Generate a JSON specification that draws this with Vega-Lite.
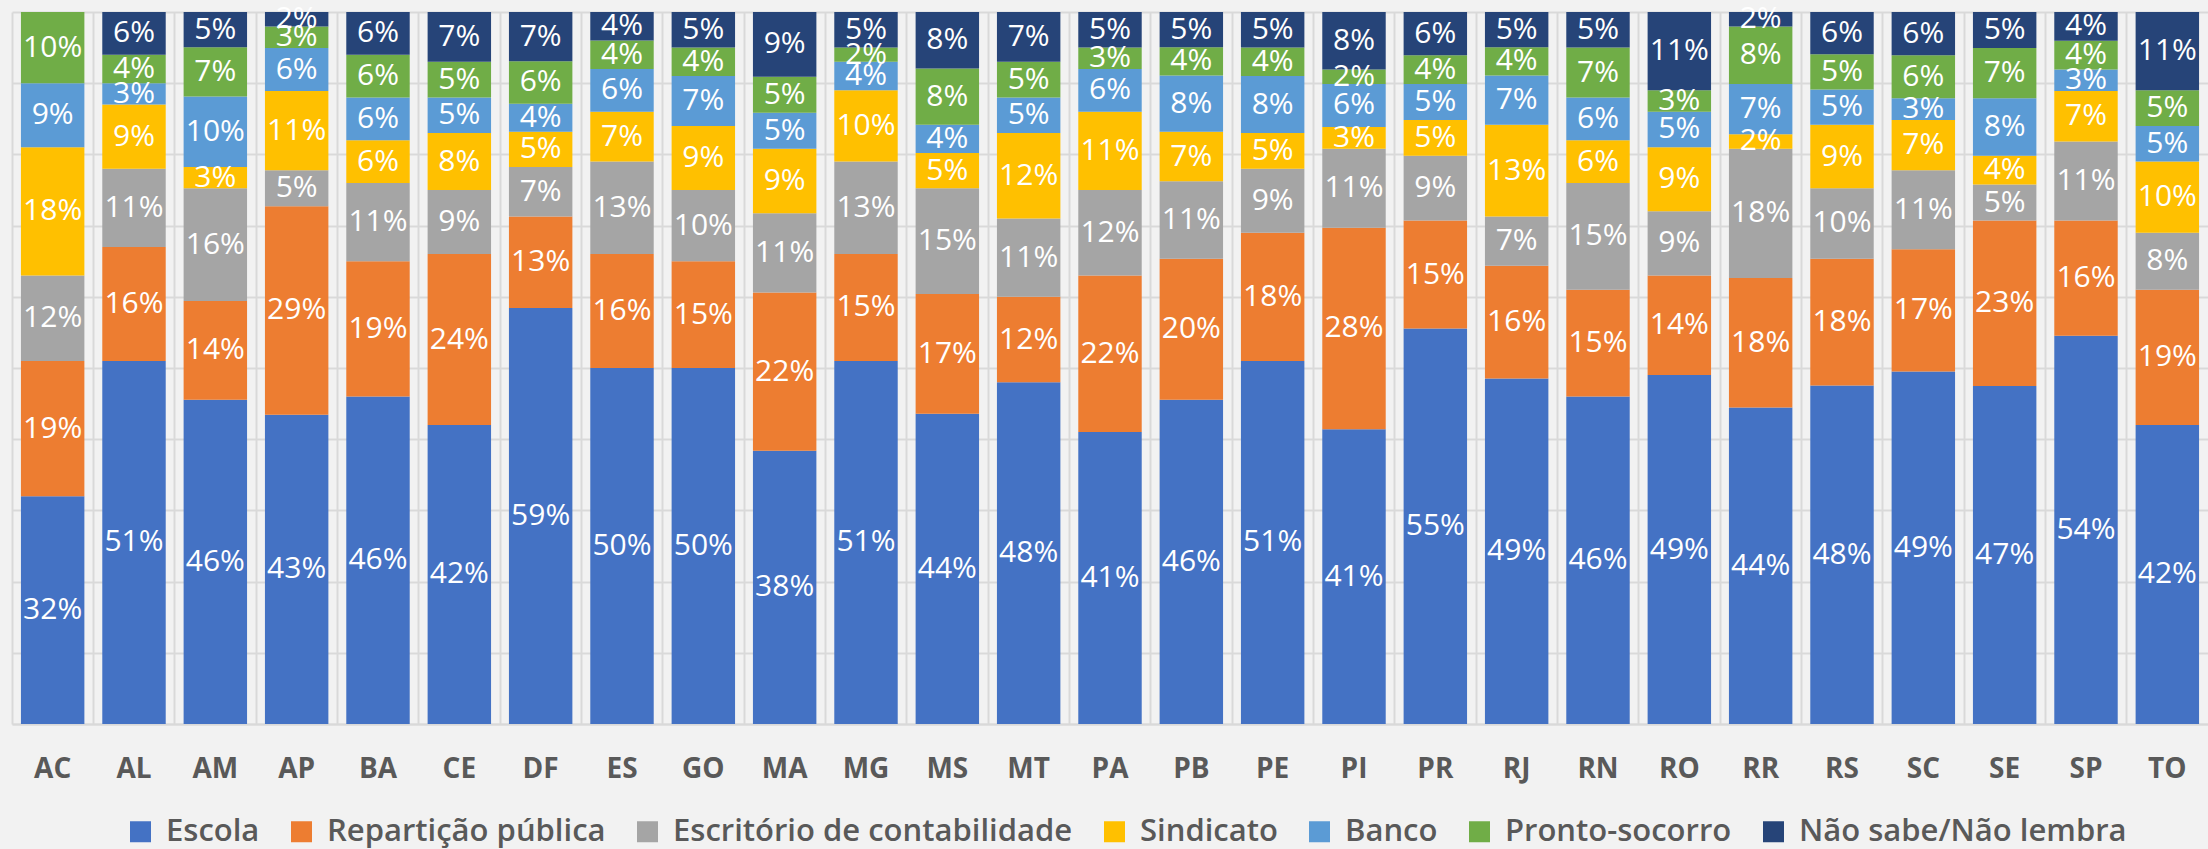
{
"$schema": "https://vega.github.io/schema/vega-lite/v6.json",
"width": 2196, "height": 712,
"autosize": {"type": "none"},
"padding": {"left": 12, "top": 12, "right": 0, "bottom": 125},
"background": "#f2f2f2",
"config": {"view": {"stroke": null}, "font": "Open Sans"},
"datasets": {"t": [
{"estado":"AC","local":"Escola","ordem":1,"pct":0.32},{"estado":"AC","local":"Repartição pública","ordem":2,"pct":0.19},{"estado":"AC","local":"Escritório de contabilidade","ordem":3,"pct":0.12},{"estado":"AC","local":"Sindicato","ordem":4,"pct":0.18},{"estado":"AC","local":"Banco","ordem":5,"pct":0.09},{"estado":"AC","local":"Pronto-socorro","ordem":6,"pct":0.10},
{"estado":"AL","local":"Escola","ordem":1,"pct":0.51},{"estado":"AL","local":"Repartição pública","ordem":2,"pct":0.16},{"estado":"AL","local":"Escritório de contabilidade","ordem":3,"pct":0.11},{"estado":"AL","local":"Sindicato","ordem":4,"pct":0.09},{"estado":"AL","local":"Banco","ordem":5,"pct":0.03},{"estado":"AL","local":"Pronto-socorro","ordem":6,"pct":0.04},{"estado":"AL","local":"Não sabe/Não lembra","ordem":7,"pct":0.06},
{"estado":"AM","local":"Escola","ordem":1,"pct":0.46},{"estado":"AM","local":"Repartição pública","ordem":2,"pct":0.14},{"estado":"AM","local":"Escritório de contabilidade","ordem":3,"pct":0.16},{"estado":"AM","local":"Sindicato","ordem":4,"pct":0.03},{"estado":"AM","local":"Banco","ordem":5,"pct":0.10},{"estado":"AM","local":"Pronto-socorro","ordem":6,"pct":0.07},{"estado":"AM","local":"Não sabe/Não lembra","ordem":7,"pct":0.05},
{"estado":"AP","local":"Escola","ordem":1,"pct":0.43},{"estado":"AP","local":"Repartição pública","ordem":2,"pct":0.29},{"estado":"AP","local":"Escritório de contabilidade","ordem":3,"pct":0.05},{"estado":"AP","local":"Sindicato","ordem":4,"pct":0.11},{"estado":"AP","local":"Banco","ordem":5,"pct":0.06},{"estado":"AP","local":"Pronto-socorro","ordem":6,"pct":0.03},{"estado":"AP","local":"Não sabe/Não lembra","ordem":7,"pct":0.02},
{"estado":"BA","local":"Escola","ordem":1,"pct":0.46},{"estado":"BA","local":"Repartição pública","ordem":2,"pct":0.19},{"estado":"BA","local":"Escritório de contabilidade","ordem":3,"pct":0.11},{"estado":"BA","local":"Sindicato","ordem":4,"pct":0.06},{"estado":"BA","local":"Banco","ordem":5,"pct":0.06},{"estado":"BA","local":"Pronto-socorro","ordem":6,"pct":0.06},{"estado":"BA","local":"Não sabe/Não lembra","ordem":7,"pct":0.06},
{"estado":"CE","local":"Escola","ordem":1,"pct":0.42},{"estado":"CE","local":"Repartição pública","ordem":2,"pct":0.24},{"estado":"CE","local":"Escritório de contabilidade","ordem":3,"pct":0.09},{"estado":"CE","local":"Sindicato","ordem":4,"pct":0.08},{"estado":"CE","local":"Banco","ordem":5,"pct":0.05},{"estado":"CE","local":"Pronto-socorro","ordem":6,"pct":0.05},{"estado":"CE","local":"Não sabe/Não lembra","ordem":7,"pct":0.07},
{"estado":"DF","local":"Escola","ordem":1,"pct":0.59},{"estado":"DF","local":"Repartição pública","ordem":2,"pct":0.13},{"estado":"DF","local":"Escritório de contabilidade","ordem":3,"pct":0.07},{"estado":"DF","local":"Sindicato","ordem":4,"pct":0.05},{"estado":"DF","local":"Banco","ordem":5,"pct":0.04},{"estado":"DF","local":"Pronto-socorro","ordem":6,"pct":0.06},{"estado":"DF","local":"Não sabe/Não lembra","ordem":7,"pct":0.07},
{"estado":"ES","local":"Escola","ordem":1,"pct":0.50},{"estado":"ES","local":"Repartição pública","ordem":2,"pct":0.16},{"estado":"ES","local":"Escritório de contabilidade","ordem":3,"pct":0.13},{"estado":"ES","local":"Sindicato","ordem":4,"pct":0.07},{"estado":"ES","local":"Banco","ordem":5,"pct":0.06},{"estado":"ES","local":"Pronto-socorro","ordem":6,"pct":0.04},{"estado":"ES","local":"Não sabe/Não lembra","ordem":7,"pct":0.04},
{"estado":"GO","local":"Escola","ordem":1,"pct":0.50},{"estado":"GO","local":"Repartição pública","ordem":2,"pct":0.15},{"estado":"GO","local":"Escritório de contabilidade","ordem":3,"pct":0.10},{"estado":"GO","local":"Sindicato","ordem":4,"pct":0.09},{"estado":"GO","local":"Banco","ordem":5,"pct":0.07},{"estado":"GO","local":"Pronto-socorro","ordem":6,"pct":0.04},{"estado":"GO","local":"Não sabe/Não lembra","ordem":7,"pct":0.05},
{"estado":"MA","local":"Escola","ordem":1,"pct":0.38},{"estado":"MA","local":"Repartição pública","ordem":2,"pct":0.22},{"estado":"MA","local":"Escritório de contabilidade","ordem":3,"pct":0.11},{"estado":"MA","local":"Sindicato","ordem":4,"pct":0.09},{"estado":"MA","local":"Banco","ordem":5,"pct":0.05},{"estado":"MA","local":"Pronto-socorro","ordem":6,"pct":0.05},{"estado":"MA","local":"Não sabe/Não lembra","ordem":7,"pct":0.09},
{"estado":"MG","local":"Escola","ordem":1,"pct":0.51},{"estado":"MG","local":"Repartição pública","ordem":2,"pct":0.15},{"estado":"MG","local":"Escritório de contabilidade","ordem":3,"pct":0.13},{"estado":"MG","local":"Sindicato","ordem":4,"pct":0.10},{"estado":"MG","local":"Banco","ordem":5,"pct":0.04},{"estado":"MG","local":"Pronto-socorro","ordem":6,"pct":0.02},{"estado":"MG","local":"Não sabe/Não lembra","ordem":7,"pct":0.05},
{"estado":"MS","local":"Escola","ordem":1,"pct":0.44},{"estado":"MS","local":"Repartição pública","ordem":2,"pct":0.17},{"estado":"MS","local":"Escritório de contabilidade","ordem":3,"pct":0.15},{"estado":"MS","local":"Sindicato","ordem":4,"pct":0.05},{"estado":"MS","local":"Banco","ordem":5,"pct":0.04},{"estado":"MS","local":"Pronto-socorro","ordem":6,"pct":0.08},{"estado":"MS","local":"Não sabe/Não lembra","ordem":7,"pct":0.08},
{"estado":"MT","local":"Escola","ordem":1,"pct":0.48},{"estado":"MT","local":"Repartição pública","ordem":2,"pct":0.12},{"estado":"MT","local":"Escritório de contabilidade","ordem":3,"pct":0.11},{"estado":"MT","local":"Sindicato","ordem":4,"pct":0.12},{"estado":"MT","local":"Banco","ordem":5,"pct":0.05},{"estado":"MT","local":"Pronto-socorro","ordem":6,"pct":0.05},{"estado":"MT","local":"Não sabe/Não lembra","ordem":7,"pct":0.07},
{"estado":"PA","local":"Escola","ordem":1,"pct":0.41},{"estado":"PA","local":"Repartição pública","ordem":2,"pct":0.22},{"estado":"PA","local":"Escritório de contabilidade","ordem":3,"pct":0.12},{"estado":"PA","local":"Sindicato","ordem":4,"pct":0.11},{"estado":"PA","local":"Banco","ordem":5,"pct":0.06},{"estado":"PA","local":"Pronto-socorro","ordem":6,"pct":0.03},{"estado":"PA","local":"Não sabe/Não lembra","ordem":7,"pct":0.05},
{"estado":"PB","local":"Escola","ordem":1,"pct":0.46},{"estado":"PB","local":"Repartição pública","ordem":2,"pct":0.20},{"estado":"PB","local":"Escritório de contabilidade","ordem":3,"pct":0.11},{"estado":"PB","local":"Sindicato","ordem":4,"pct":0.07},{"estado":"PB","local":"Banco","ordem":5,"pct":0.08},{"estado":"PB","local":"Pronto-socorro","ordem":6,"pct":0.04},{"estado":"PB","local":"Não sabe/Não lembra","ordem":7,"pct":0.05},
{"estado":"PE","local":"Escola","ordem":1,"pct":0.51},{"estado":"PE","local":"Repartição pública","ordem":2,"pct":0.18},{"estado":"PE","local":"Escritório de contabilidade","ordem":3,"pct":0.09},{"estado":"PE","local":"Sindicato","ordem":4,"pct":0.05},{"estado":"PE","local":"Banco","ordem":5,"pct":0.08},{"estado":"PE","local":"Pronto-socorro","ordem":6,"pct":0.04},{"estado":"PE","local":"Não sabe/Não lembra","ordem":7,"pct":0.05},
{"estado":"PI","local":"Escola","ordem":1,"pct":0.41},{"estado":"PI","local":"Repartição pública","ordem":2,"pct":0.28},{"estado":"PI","local":"Escritório de contabilidade","ordem":3,"pct":0.11},{"estado":"PI","local":"Sindicato","ordem":4,"pct":0.03},{"estado":"PI","local":"Banco","ordem":5,"pct":0.06},{"estado":"PI","local":"Pronto-socorro","ordem":6,"pct":0.02},{"estado":"PI","local":"Não sabe/Não lembra","ordem":7,"pct":0.08},
{"estado":"PR","local":"Escola","ordem":1,"pct":0.55},{"estado":"PR","local":"Repartição pública","ordem":2,"pct":0.15},{"estado":"PR","local":"Escritório de contabilidade","ordem":3,"pct":0.09},{"estado":"PR","local":"Sindicato","ordem":4,"pct":0.05},{"estado":"PR","local":"Banco","ordem":5,"pct":0.05},{"estado":"PR","local":"Pronto-socorro","ordem":6,"pct":0.04},{"estado":"PR","local":"Não sabe/Não lembra","ordem":7,"pct":0.06},
{"estado":"RJ","local":"Escola","ordem":1,"pct":0.49},{"estado":"RJ","local":"Repartição pública","ordem":2,"pct":0.16},{"estado":"RJ","local":"Escritório de contabilidade","ordem":3,"pct":0.07},{"estado":"RJ","local":"Sindicato","ordem":4,"pct":0.13},{"estado":"RJ","local":"Banco","ordem":5,"pct":0.07},{"estado":"RJ","local":"Pronto-socorro","ordem":6,"pct":0.04},{"estado":"RJ","local":"Não sabe/Não lembra","ordem":7,"pct":0.05},
{"estado":"RN","local":"Escola","ordem":1,"pct":0.46},{"estado":"RN","local":"Repartição pública","ordem":2,"pct":0.15},{"estado":"RN","local":"Escritório de contabilidade","ordem":3,"pct":0.15},{"estado":"RN","local":"Sindicato","ordem":4,"pct":0.06},{"estado":"RN","local":"Banco","ordem":5,"pct":0.06},{"estado":"RN","local":"Pronto-socorro","ordem":6,"pct":0.07},{"estado":"RN","local":"Não sabe/Não lembra","ordem":7,"pct":0.05},
{"estado":"RO","local":"Escola","ordem":1,"pct":0.49},{"estado":"RO","local":"Repartição pública","ordem":2,"pct":0.14},{"estado":"RO","local":"Escritório de contabilidade","ordem":3,"pct":0.09},{"estado":"RO","local":"Sindicato","ordem":4,"pct":0.09},{"estado":"RO","local":"Banco","ordem":5,"pct":0.05},{"estado":"RO","local":"Pronto-socorro","ordem":6,"pct":0.03},{"estado":"RO","local":"Não sabe/Não lembra","ordem":7,"pct":0.11},
{"estado":"RR","local":"Escola","ordem":1,"pct":0.44},{"estado":"RR","local":"Repartição pública","ordem":2,"pct":0.18},{"estado":"RR","local":"Escritório de contabilidade","ordem":3,"pct":0.18},{"estado":"RR","local":"Sindicato","ordem":4,"pct":0.02},{"estado":"RR","local":"Banco","ordem":5,"pct":0.07},{"estado":"RR","local":"Pronto-socorro","ordem":6,"pct":0.08},{"estado":"RR","local":"Não sabe/Não lembra","ordem":7,"pct":0.02},
{"estado":"RS","local":"Escola","ordem":1,"pct":0.48},{"estado":"RS","local":"Repartição pública","ordem":2,"pct":0.18},{"estado":"RS","local":"Escritório de contabilidade","ordem":3,"pct":0.10},{"estado":"RS","local":"Sindicato","ordem":4,"pct":0.09},{"estado":"RS","local":"Banco","ordem":5,"pct":0.05},{"estado":"RS","local":"Pronto-socorro","ordem":6,"pct":0.05},{"estado":"RS","local":"Não sabe/Não lembra","ordem":7,"pct":0.06},
{"estado":"SC","local":"Escola","ordem":1,"pct":0.49},{"estado":"SC","local":"Repartição pública","ordem":2,"pct":0.17},{"estado":"SC","local":"Escritório de contabilidade","ordem":3,"pct":0.11},{"estado":"SC","local":"Sindicato","ordem":4,"pct":0.07},{"estado":"SC","local":"Banco","ordem":5,"pct":0.03},{"estado":"SC","local":"Pronto-socorro","ordem":6,"pct":0.06},{"estado":"SC","local":"Não sabe/Não lembra","ordem":7,"pct":0.06},
{"estado":"SE","local":"Escola","ordem":1,"pct":0.47},{"estado":"SE","local":"Repartição pública","ordem":2,"pct":0.23},{"estado":"SE","local":"Escritório de contabilidade","ordem":3,"pct":0.05},{"estado":"SE","local":"Sindicato","ordem":4,"pct":0.04},{"estado":"SE","local":"Banco","ordem":5,"pct":0.08},{"estado":"SE","local":"Pronto-socorro","ordem":6,"pct":0.07},{"estado":"SE","local":"Não sabe/Não lembra","ordem":7,"pct":0.05},
{"estado":"SP","local":"Escola","ordem":1,"pct":0.54},{"estado":"SP","local":"Repartição pública","ordem":2,"pct":0.16},{"estado":"SP","local":"Escritório de contabilidade","ordem":3,"pct":0.11},{"estado":"SP","local":"Sindicato","ordem":4,"pct":0.07},{"estado":"SP","local":"Banco","ordem":5,"pct":0.03},{"estado":"SP","local":"Pronto-socorro","ordem":6,"pct":0.04},{"estado":"SP","local":"Não sabe/Não lembra","ordem":7,"pct":0.04},
{"estado":"TO","local":"Escola","ordem":1,"pct":0.42},{"estado":"TO","local":"Repartição pública","ordem":2,"pct":0.19},{"estado":"TO","local":"Escritório de contabilidade","ordem":3,"pct":0.08},{"estado":"TO","local":"Sindicato","ordem":4,"pct":0.10},{"estado":"TO","local":"Banco","ordem":5,"pct":0.05},{"estado":"TO","local":"Pronto-socorro","ordem":6,"pct":0.05},{"estado":"TO","local":"Não sabe/Não lembra","ordem":7,"pct":0.11}
]},
"data": {"name": "t"},
"encoding": {
  "x": {"field": "estado", "type": "nominal", "sort": "ascending",
    "scale": {"paddingInner": 0, "paddingOuter": 0},
    "axis": {"title": null, "labelAngle": 0, "ticks": false, "domain": true, "domainColor": "#d9d9d9", "domainWidth": 2,
      "grid": true, "bandPosition": 0, "gridColor": "#d9d9d9", "gridWidth": 2,
      "labelFont": "Open Sans", "labelFontSize": 28, "labelFontWeight": "bold", "labelColor": "#595959",
      "labelPadding": 45, "labelBaseline": "middle"}}
},
"layer": [
  {"mark": {"type": "bar", "width": {"band": 0.78}},
   "encoding": {
     "y": {"field": "pct", "type": "quantitative", "stack": "normalize", "scale": {"domain": [0, 1]},
       "axis": {"title": null, "labels": false, "ticks": false, "domain": false, "grid": true,
         "values": [0, 0.1, 0.2, 0.3, 0.4, 0.5, 0.6, 0.7, 0.8, 0.9, 1], "gridColor": "#d9d9d9", "gridWidth": 2}},
     "color": {"field": "local", "type": "nominal",
       "scale": {"domain": ["Escola", "Repartição pública", "Escritório de contabilidade", "Sindicato", "Banco", "Pronto-socorro", "Não sabe/Não lembra"],
                 "range": ["#4472c4", "#ed7d31", "#a5a5a5", "#ffc000", "#5b9bd5", "#70ad47", "#264478"]},
       "legend": {"title": null, "orient": "none", "legendX": 113, "legendY": 804, "direction": "horizontal", "columns": 7,
         "symbolType": "square", "symbolSize": 441, "symbolStrokeWidth": 0, "labelFont": "Open Sans", "labelFontSize": 31,
         "labelFontWeight": 600, "labelColor": "#595959", "labelOffset": 10, "columnPadding": 26, "labelLimit": 600}},
     "order": {"field": "ordem", "type": "quantitative"}
   }},
  {"mark": {"type": "text", "color": "white", "fontSize": 30, "font": "Open Sans"},
   "encoding": {
     "y": {"field": "pct", "type": "quantitative", "stack": "normalize", "bandPosition": 0.5},
     "detail": {"field": "local", "type": "nominal"},
     "order": {"field": "ordem", "type": "quantitative"},
     "text": {"field": "pct", "type": "quantitative", "format": ".0%"}
   }}
]
}
